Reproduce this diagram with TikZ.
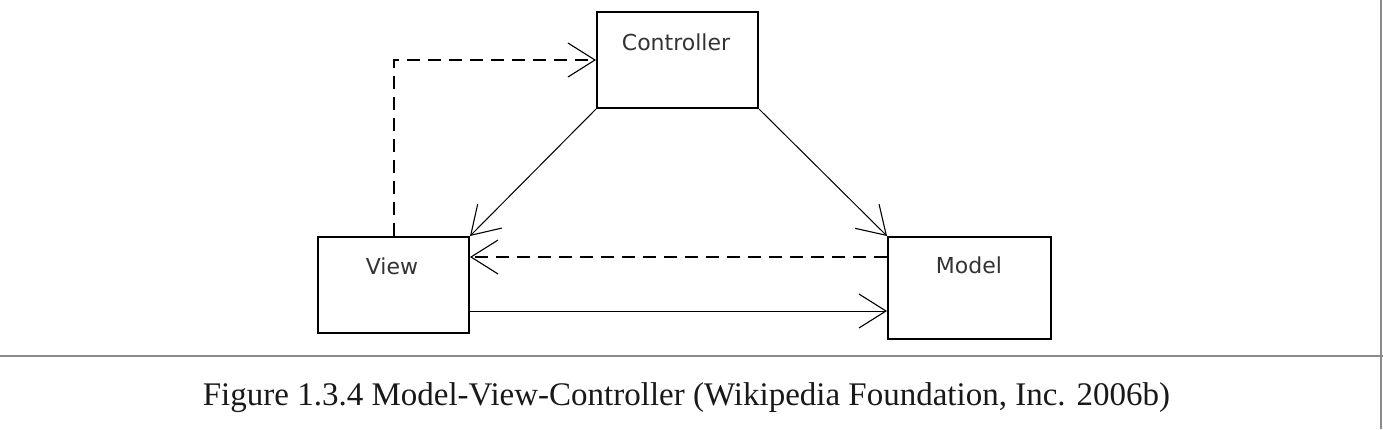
\documentclass[tikz,border=0pt]{standalone}
\usepackage{fontspec}
\setmainfont{Liberation Serif}
\newfontfamily\boxfont{DejaVu Sans}
\usetikzlibrary{arrows.meta,calc}

\definecolor{framegray}{HTML}{8A8A8A}
\definecolor{labelgray}{HTML}{333333}

\tikzset{
  classbox/.style={draw=black, line width=2pt, rectangle, inner sep=0pt},
  boxlabel/.style={font=\boxfont\fontsize{22}{26}\selectfont, text=labelgray, inner sep=0pt},
  openhead/.style={-{Straight Barb[length=27pt,width=34pt,line width=1.1pt]}},
  call/.style={openhead, line width=1pt, black},
  notify/.style={openhead, line width=2pt, black, dash pattern=on 13pt off 8pt},
  frameline/.style={framegray, line width=2pt},
}

\begin{document}
\begin{tikzpicture}[x=1pt, y=-1pt]
  \useasboundingbox (0,0) rectangle (1383,429);

  % frame of the figure cell
  \draw[frameline] (0,355.5) -- (1383,355.5);
  \draw[frameline, line width=1.5pt] (1381,0) -- (1381,429);

  % the three classes
  \node[classbox, minimum width=161pt, minimum height=96pt] (ctrl) at (677.5,60) {};
  \node[classbox, minimum width=151pt, minimum height=96pt] (view) at (393.5,285) {};
  \node[classbox, minimum width=163pt, minimum height=102pt] (model) at (969.5,288) {};

  \node[boxlabel] (ctrltext) at (676,42) {Controller};
  \node[boxlabel] (viewtext) at (392,266) {View};
  \node[boxlabel] (modeltext) at (969,265) {Model};

  % attachment points on the box sides
  \coordinate (mdash) at ($(model.north west)+(0,21)$);
  \coordinate (vsolid) at ($(view.south east)+(0,-23)$);

  % connectors
  \draw[notify] (view.north) |- (ctrl.west);
  \draw[call] (ctrl.south west) -- (view.north east);
  \draw[call] (ctrl.south east) -- (model.north west);
  \draw[notify] (mdash) -- (view.east |- mdash);
  \draw[call] (vsolid) -- (model.west |- vsolid);

  % caption
  \node[anchor=base, font=\fontsize{33}{40}\selectfont, text=black!90, inner sep=0pt] (caption) at (686.5,405)
    {Figure 1.3.4 Model-View-Controller (Wikipedia Foundation, Inc. 2006b)};
\end{tikzpicture}
\end{document}
